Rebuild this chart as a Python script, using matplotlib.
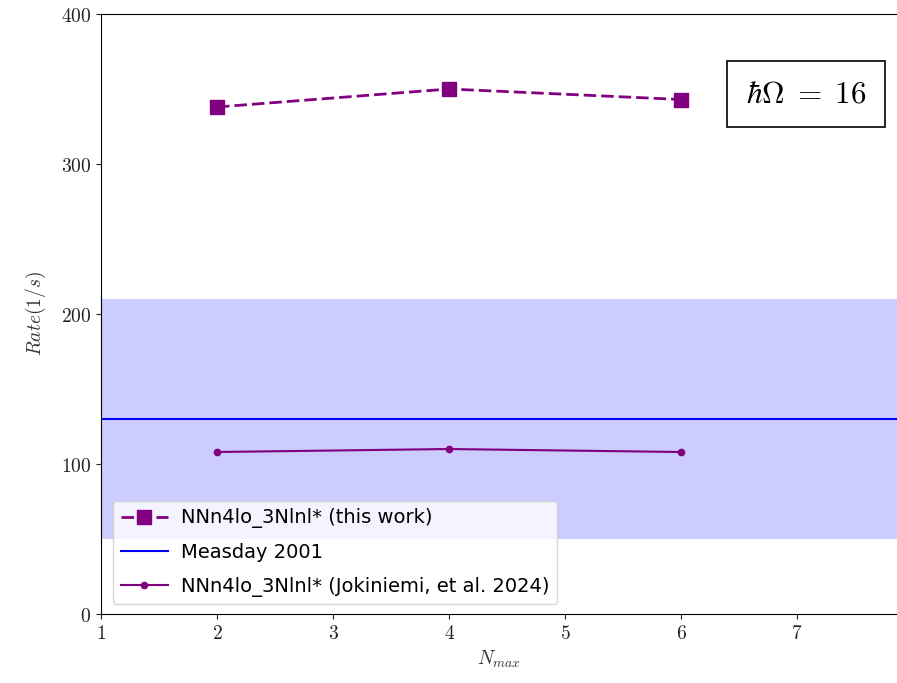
import numpy as np
import matplotlib
matplotlib.use("Agg")
import matplotlib.pyplot as plt
from matplotlib.ticker import FormatStrFormatter

plt.rcParams['mathtext.fontset'] = 'cm'

# data
nmax = [2, 4, 6]
rate_this_work = [338, 350, 343]
rate_jokiniemi = [108, 110, 108]
measday_rate = 130
measday_low = 50
measday_high = 210

fig = plt.figure(figsize=(8.97, 6.83), dpi=100)
ax = fig.add_axes([0.1126, 0.101, 0.8874, 0.8785])

# experimental band and central value
ax.axhspan(measday_low, measday_high, color='blue', alpha=0.2, lw=0)
ax.plot(nmax, rate_this_work, color='purple', ls='--', marker='s', ms=10,
        lw=2, dashes=(4.5, 1.8), label='NNn4lo_3Nlnl* (this work)')
ax.axhline(measday_rate, color='blue', lw=1.5, label='Measday 2001')
ax.plot(nmax, rate_jokiniemi, color='purple', ls='-', marker='.', ms=9,
        lw=1.5, label='NNn4lo_3Nlnl* (Jokiniemi, et al. 2024)')

ax.set_xlim(1, 7.86)
ax.set_ylim(0, 400)
ax.set_xticks(range(1, 8))
ax.set_yticks(range(0, 401, 100))
ax.xaxis.set_major_formatter(FormatStrFormatter('$%d$'))
ax.yaxis.set_major_formatter(FormatStrFormatter('$%d$'))
ax.tick_params(labelsize=14, colors='#222222')
ax.spines['right'].set_visible(False)

ax.set_xlabel('$N_{max}$', fontsize=14, color='#333333')
ax.set_ylabel('$Rate(1/s)$', fontsize=14, color='#333333', labelpad=9)

ax.text(0.886, 0.867, r'$\hbar\Omega\;=\;16$', transform=ax.transAxes,
        fontsize=22.5, ha='center', va='center',
        bbox=dict(boxstyle='square,pad=0.6', fc='white', ec='black', lw=1.2))

ax.legend(loc='lower left', fontsize=14, bbox_to_anchor=(0.003, 0.0),
          handlelength=2.4, handletextpad=0.7, labelspacing=0.75)

fig.savefig('out.png', dpi=100)
